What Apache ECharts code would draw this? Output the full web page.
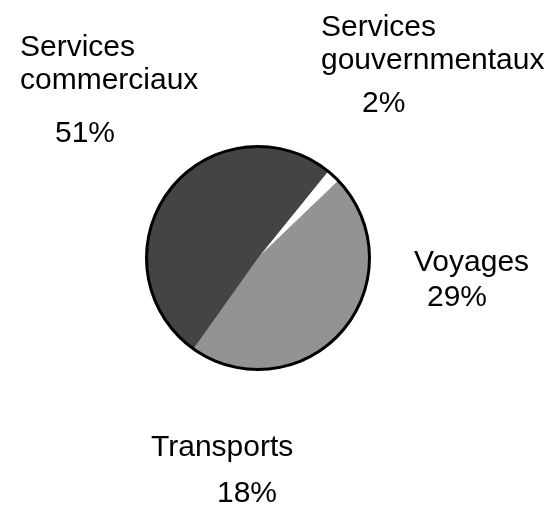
<!DOCTYPE html>
<html>
<head>
<meta charset="utf-8">
<script src="https://cdn.jsdelivr.net/npm/echarts@6/dist/echarts.min.js"></script>
<style>
html,body{margin:0;padding:0;background:#fff;}
#chart{width:552px;height:506px;}
</style>
</head>
<body>
<div id="chart"></div>
<script>
// Data
const categories = ['Services gouvernmentaux', 'Voyages', 'Transports', 'Services commerciaux'];
const nameLines = [['Services', 'gouvernmentaux'], ['Voyages'], ['Transports'], ['Services', 'commerciaux']];
const values = [2, 29, 18, 51];
const sliceColors = ['#ffffff', '#939393', '#939393', '#444444'];

// Label layout (positions per slice)
const labelPos = [
  {x: 321, y: 11, pad: 41, gap: 53},
  {x: 414, y: 246, pad: 13, gap: 37},
  {x: 151, y: 431, pad: 66, gap: 59},
  {x: 20, y: 31, pad: 35, gap: 73}
];

const FONT = 'Liberation Sans, Arial, sans-serif';
const chart = echarts.init(document.getElementById('chart'), null, {renderer: 'canvas'});

const data = categories.map((c, i) => ({
  name: c,
  value: values[i],
  itemStyle: {
    color: sliceColors[i],
    borderColor: sliceColors[i],
    borderWidth: i === 1 || i === 2 ? 1 : 0
  },
  label: {
    formatter: '{n|' + nameLines[i].join('}\n{n|') + '}\n{p|' + values[i] + '%}',
    rich: {
      n: {fontSize: 30, lineHeight: 33, fontFamily: FONT, color: '#000'},
      p: {fontSize: 30, lineHeight: labelPos[i].gap, padding: [0, 0, 0, labelPos[i].pad], fontFamily: FONT, color: '#000'}
    }
  }
}));

chart.setOption({
  animation: false,
  backgroundColor: '#fff',
  series: [
    {
      type: 'pie',
      center: [258, 258],
      radius: [0, 111],
      startAngle: 51,
      clockwise: true,
      avoidLabelOverlap: false,
      silent: true,
      label: {show: true, position: 'outside', align: 'left'},
      labelLine: {show: false},
      labelLayout: function (params) {
        const p = labelPos[params.dataIndex];
        return {x: p.x, y: p.y, align: 'left', verticalAlign: 'top'};
      },
      data: data
    },
    {
      type: 'pie',
      center: [258, 258],
      radius: [110, 113],
      silent: true,
      label: {show: false},
      labelLine: {show: false},
      itemStyle: {color: '#000', borderWidth: 0},
      data: [{value: 1, name: 'outline'}]
    }
  ]
});
</script>
</body>
</html>
